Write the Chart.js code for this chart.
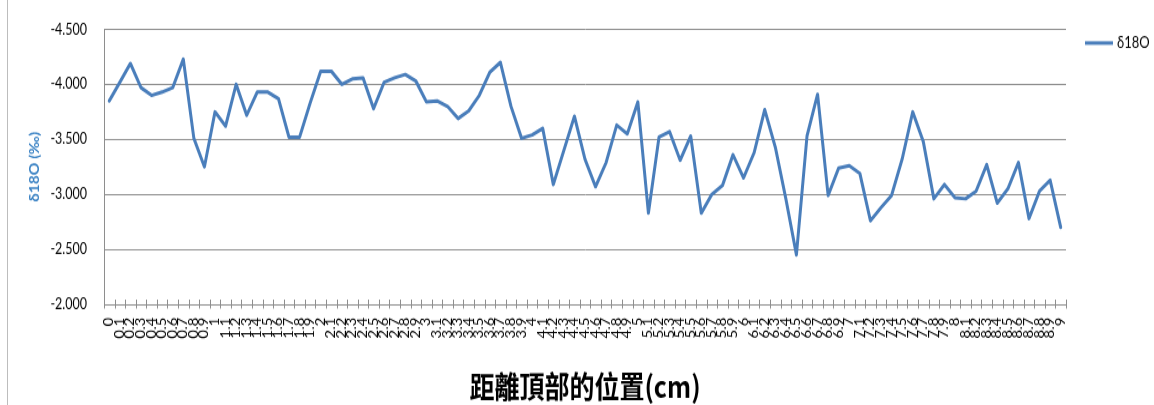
<!DOCTYPE html>
<html>
<head>
<meta charset="utf-8">
<script src="https://cdn.jsdelivr.net/npm/chart.js@4.4.1/dist/chart.umd.min.js"></script>
<style>
  html, body { margin: 0; padding: 0; background: #fff; }
  #wrap { width: 1154px; height: 405px; overflow: hidden; background: #fff; }
  /* the drawing is made 338px tall and stretched to 405px, giving the tall lettering */
  #chart { transform: scale(1, 1.1982); transform-origin: 0 0; }
</style>
</head>
<body>
<div id="wrap"><canvas id="chart" width="1154" height="338"></canvas></div>
<script>
// depth from the top of the sample (cm)
const depths = [
  '0', '0.1', '0.2', '0.3', '0.4', '0.5', '0.6', '0.7', '0.8', '0.9',
  '1', '1.1', '1.2', '1.3', '1.4', '1.5', '1.6', '1.7', '1.8', '1.9',
  '2', '2.1', '2.2', '2.3', '2.4', '2.5', '2.6', '2.7', '2.8', '2.9',
  '3', '3.1', '3.2', '3.3', '3.4', '3.5', '3.6', '3.7', '3.8', '3.9',
  '4', '4.1', '4.2', '4.3', '4.4', '4.5', '4.6', '4.7', '4.8', '4.9',
  '5', '5.1', '5.2', '5.3', '5.4', '5.5', '5.6', '5.7', '5.8', '5.9',
  '6', '6.1', '6.2', '6.3', '6.4', '6.5', '6.6', '6.7', '6.8', '6.9',
  '7', '7.1', '7.2', '7.3', '7.4', '7.5', '7.6', '7.7', '7.8', '7.9',
  '8', '8.1', '8.2', '8.3', '8.4', '8.5', '8.6', '8.7', '8.8', '8.9',
  '9'
];

// δ18O (‰) per depth
const d18O = [
  -3.85, -4.02, -4.19, -3.97, -3.90, -3.93, -3.97, -4.23, -3.51, -3.25,
  -3.75, -3.62, -4.00, -3.72, -3.93, -3.93, -3.87, -3.52, -3.52, -3.83,
  -4.12, -4.12, -4.00, -4.05, -4.06, -3.78, -4.02, -4.06, -4.09, -4.03,
  -3.84, -3.85, -3.80, -3.69, -3.76, -3.90, -4.11, -4.20, -3.80, -3.51,
  -3.54, -3.60, -3.09, -3.40, -3.71, -3.32, -3.07, -3.29, -3.63, -3.55,
  -3.84, -2.83, -3.52, -3.57, -3.31, -3.53, -2.83, -3.00, -3.08, -3.36,
  -3.15, -3.38, -3.77, -3.43, -2.96, -2.45, -3.53, -3.91, -2.99, -3.24,
  -3.26, -3.19, -2.76, -2.88, -2.99, -3.32, -3.75, -3.48, -2.96, -3.09,
  -2.97, -2.96, -3.03, -3.27, -2.92, -3.05, -3.29, -2.78, -3.03, -3.13,
  -2.70
];

const yMin = -4.5;
const yMax = -2.0;
const yStep = 0.5;

const lineBlue = '#4A7EBB';
const gridGrey = '#8e8e8e';
const font = 'Lato, "DejaVu Sans", sans-serif';

Chart.defaults.font.family = font;
Chart.defaults.color = '#000';

// tick crosses on the category axis, the outer frame line and the legend
const extras = {
  id: 'extras',
  beforeDraw(chart) {
    const ctx = chart.ctx;
    ctx.save();
    ctx.strokeStyle = '#bdbdbd';
    ctx.lineWidth = 1;
    ctx.beginPath();
    ctx.moveTo(7.5, 0);
    ctx.lineTo(7.5, chart.height);
    ctx.stroke();
    ctx.restore();
  },
  afterDraw(chart) {
    const ctx = chart.ctx;
    const xs = chart.scales.x;
    const y0 = xs.top;
    ctx.save();
    ctx.strokeStyle = gridGrey;
    ctx.lineWidth = 1;
    ctx.beginPath();
    for (let i = 0; i <= depths.length; i++) {
      const px = Math.round(xs.getPixelForValue(i - 0.5)) + 0.5;
      ctx.moveTo(px, y0 - 4);
      ctx.lineTo(px, y0 + 3.5);
    }
    ctx.stroke();

    const ds = chart.data.datasets[0];
    const ly = 35.9;
    ctx.strokeStyle = ds.borderColor;
    ctx.lineWidth = ds.borderWidth;
    ctx.beginPath();
    ctx.moveTo(1085, ly);
    ctx.lineTo(1113, ly);
    ctx.stroke();
    ctx.fillStyle = '#000';
    ctx.font = '13px ' + font;
    ctx.textBaseline = 'middle';
    ctx.textAlign = 'left';
    ctx.fillText(ds.label, 1117, ly);
    ctx.restore();
  }
};

new Chart(document.getElementById('chart'), {
  type: 'line',
  data: {
    labels: depths,
    datasets: [{
      label: 'δ18O',
      data: d18O,
      borderColor: lineBlue,
      backgroundColor: lineBlue,
      borderWidth: 3,
      borderJoinStyle: 'round',
      borderCapStyle: 'round',
      pointRadius: 0,
      pointHoverRadius: 0,
      tension: 0,
      fill: false
    }]
  },
  options: {
    responsive: false,
    devicePixelRatio: 1,
    animation: false,
    layout: { padding: { top: 23, right: 88, bottom: 0, left: 0 } },
    plugins: {
      legend: { display: false },
      tooltip: { enabled: false }
    },
    scales: {
      x: {
        type: 'category',
        offset: true,
        afterFit: (scale) => { scale.height = 84; },
        grid: { display: true, drawOnChartArea: false, drawTicks: false },
        border: { display: true, color: gridGrey, width: 1 },
        ticks: {
          autoSkip: false,
          minRotation: 90,
          maxRotation: 90,
          padding: 11,
          font: { size: 12.5 },
          color: '#000'
        },
        title: {
          display: true,
          text: '距離頂部的位置(cm)',
          color: '#000',
          font: { family: '"Noto Sans CJK TC", "Noto Sans CJK SC", sans-serif', size: 25, weight: 'bold' },
          padding: { top: 0, bottom: 1 }
        }
      },
      y: {
        type: 'linear',
        reverse: true,
        min: yMin,
        max: yMax,
        afterFit: (scale) => { scale.width = 104; },
        grid: { color: gridGrey, lineWidth: 1, drawTicks: false },
        border: { display: true, color: gridGrey, width: 1 },
        ticks: {
          stepSize: yStep,
          padding: 17,
          font: { size: 12.5 },
          color: '#000',
          callback: (v) => Number(v).toFixed(3)
        },
        title: {
          display: true,
          text: 'δ18O (‰)',
          color: '#3A82C4',
          font: { size: 13, weight: 'bold' },
          padding: { top: 27, bottom: 0 }
        }
      }
    }
  },
  plugins: [extras]
});
</script>
</body>
</html>
